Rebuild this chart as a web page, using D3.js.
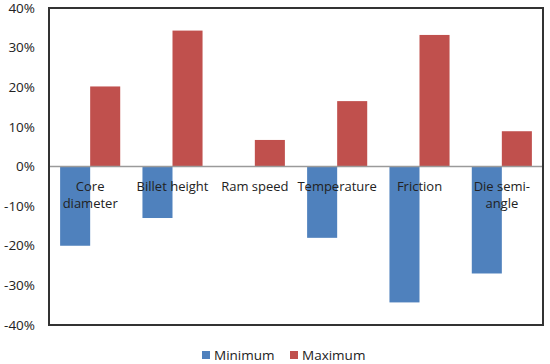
<!DOCTYPE html>
<html>
<head>
<meta charset="utf-8">
<script src="https://cdn.jsdelivr.net/npm/d3@7"></script>
<style>
  body { margin: 0; background: #fff; }
  svg { display: block; font-family: "Open Sans", "Liberation Sans", sans-serif; }
</style>
</head>
<body>
<div id="chart"></div>
<script>
const categories = [["Core", "diameter"], ["Billet height"], ["Ram speed"], ["Temperature"], ["Friction"], ["Die semi-", "angle"]];
const minimum = [-20, -13, 0, -18, -34.3, -27];
const maximum = [20.2, 34.3, 6.7, 16.5, 33.2, 8.9];
const yTicks = [40, 30, 20, 10, 0, -10, -20, -30, -40];
const seriesNames = ["Minimum", "Maximum"];
const colors = ["#4f81bd", "#c0504d"];

const W = 550, H = 364;
const margin = { top: 8, right: 7, bottom: 39, left: 49 };
const width = W - margin.left - margin.right;
const height = H - margin.top - margin.bottom;

const svg = d3.select("#chart").append("svg")
    .attr("width", W)
    .attr("height", H);

const g = svg.append("g")
    .attr("transform", `translate(${margin.left},${margin.top})`);

const x = d3.scaleBand().domain(d3.range(categories.length)).range([0, width]).paddingInner(0).paddingOuter(0);
const inner = d3.scaleBand().domain([0, 1]).range([0, x.bandwidth()]).paddingInner(0).paddingOuter(0.37);
const y = d3.scaleLinear().domain([-40, 40]).range([height, 0]);

// bars
const rows = categories.map((c, i) => [minimum[i], maximum[i]]);
const groups = g.selectAll(".grp")
    .data(rows)
    .enter().append("g")
    .attr("transform", (d, i) => `translate(${x(i)},0)`);

groups.selectAll("rect")
    .data(d => d)
    .enter().append("rect")
    .attr("x", (d, j) => inner(j))
    .attr("width", inner.bandwidth())
    .attr("y", d => y(Math.max(0, d)))
    .attr("height", d => Math.abs(y(d) - y(0)))
    .attr("fill", (d, j) => colors[j]);

// zero line
g.append("line")
    .attr("x1", 0).attr("x2", width)
    .attr("y1", y(0)).attr("y2", y(0))
    .attr("stroke", "#9a9a9a")
    .attr("stroke-width", 1.5);

// frame
g.append("rect")
    .attr("width", width)
    .attr("height", height)
    .attr("fill", "none")
    .attr("stroke", "#333")
    .attr("stroke-width", 2);

// y axis labels
g.selectAll(".ytick")
    .data(yTicks)
    .enter().append("text")
    .attr("x", -14)
    .attr("y", d => y(d))
    .attr("dy", "0.35em")
    .attr("text-anchor", "end")
    .attr("font-size", 13.5)
    .attr("fill", "#222")
    .text(d => d + "%");

// category labels
const labels = g.selectAll(".cat")
    .data(categories)
    .enter().append("text")
    .attr("text-anchor", "middle")
    .attr("font-size", 13)
    .attr("fill", "#222")
    .attr("transform", (d, i) => `translate(${x(i) + x.bandwidth() / 2},${y(0) + 24})`);

labels.selectAll("tspan")
    .data(d => d)
    .enter().append("tspan")
    .attr("x", 0)
    .attr("y", (d, k) => k * 17)
    .text(d => d);

// legend
const legend = svg.selectAll(".legend")
    .data(seriesNames)
    .enter().append("g")
    .attr("transform", (d, i) => `translate(${202 + i * 88},351)`);

legend.append("rect")
    .attr("width", 8)
    .attr("height", 8)
    .attr("fill", (d, i) => colors[i]);

legend.append("text")
    .attr("x", 12)
    .attr("y", 4)
    .attr("dy", "0.35em")
    .attr("font-size", 13.5)
    .attr("fill", "#222")
    .text(d => d);
</script>
</body>
</html>
